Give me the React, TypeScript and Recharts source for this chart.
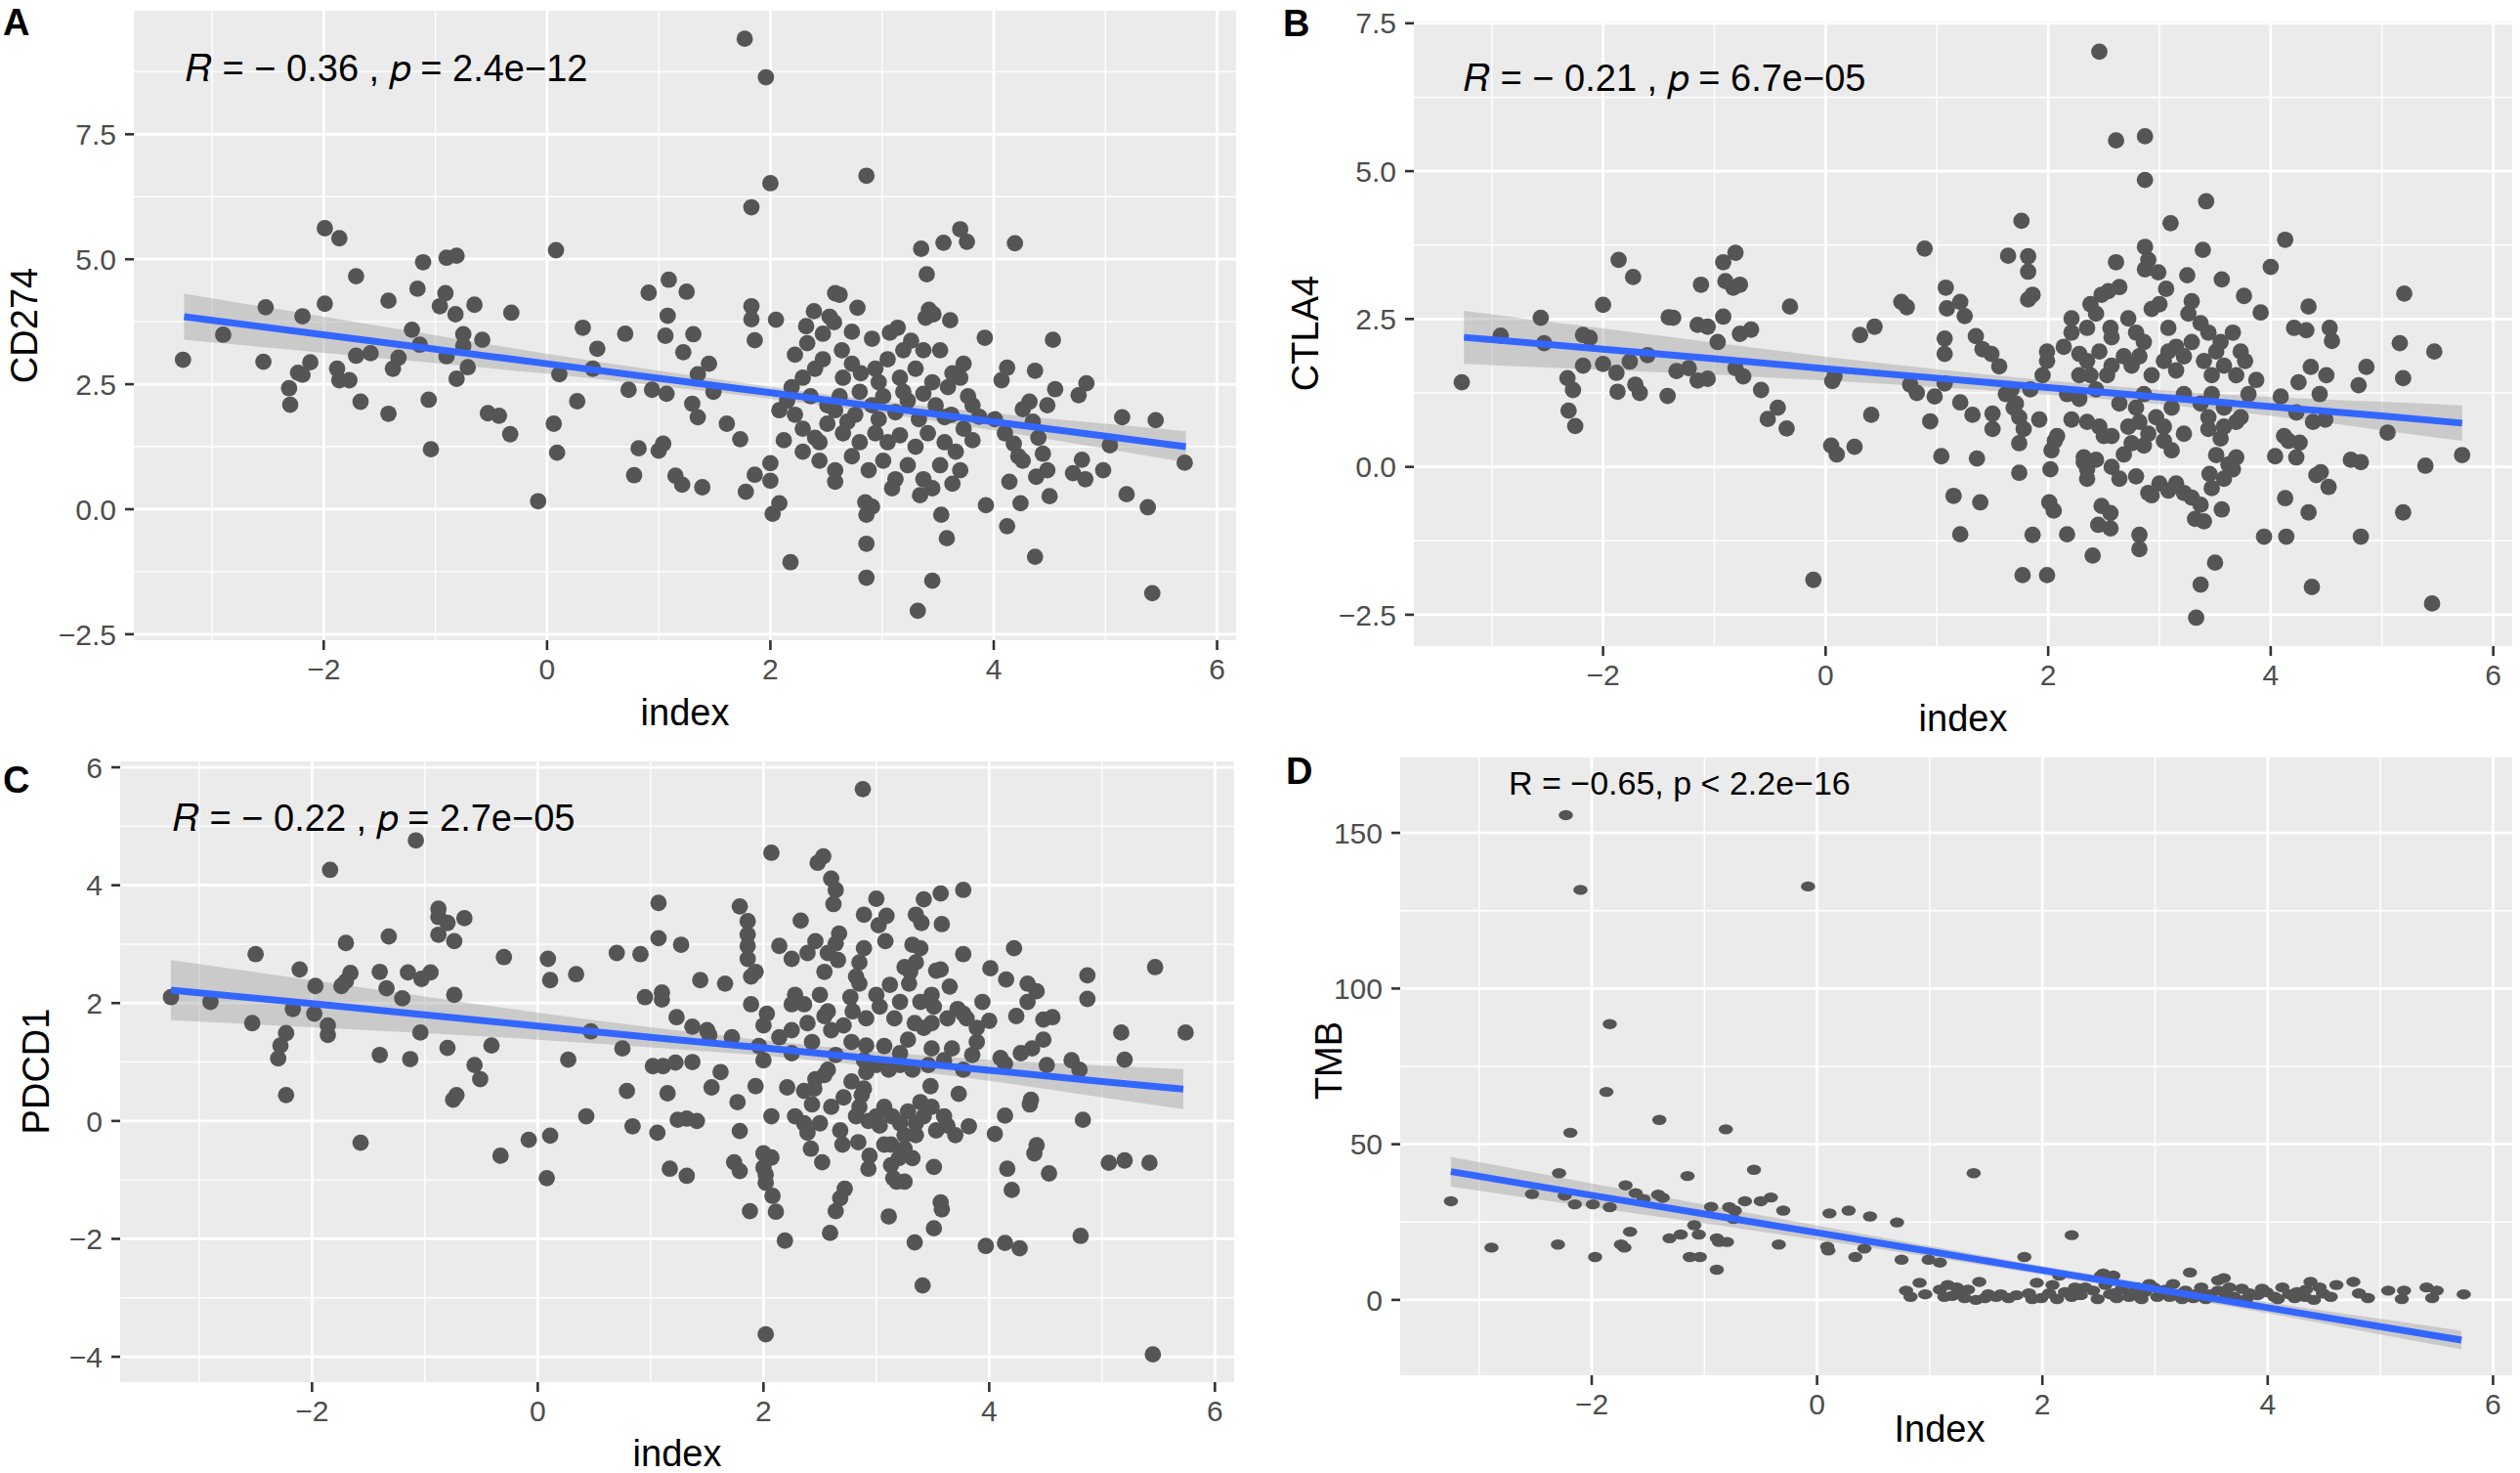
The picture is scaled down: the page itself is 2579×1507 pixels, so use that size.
import React from 'react';
import { ComposedChart, Scatter, Line, Area, XAxis, YAxis, CartesianGrid } from 'recharts';

const FONT = '"Liberation Sans", Arial, Helvetica, sans-serif';

// shared x axis
const xTicks = [-2, 0, 2, 4, 6];
const xMinorTicks = [-3, -1, 1, 3, 5];
const xDomain: [number, number] = [-3.7, 6.17];

const fitX = [-3.25, -2, -1, 0, 1, 2, 3, 4, 5, 5.72];

// ---------- Panel A : CD274 ----------
const cd274Ticks = [-2.5, 0, 2.5, 5, 7.5];
const cd274Minor = [-1.25, 1.25, 3.75, 6.25, 8.75];
const cd274Fit = [3.85, 3.49, 3.2, 2.91, 2.62, 2.33, 2.04, 1.75, 1.46, 1.25];
const cd274Lo = [3.39, 3.13, 2.92, 2.71, 2.47, 2.21, 1.92, 1.58, 1.21, 0.94];
const cd274Hi = [4.31, 3.85, 3.48, 3.11, 2.77, 2.45, 2.16, 1.92, 1.71, 1.56];
const cd274Points = [
  [1.77, 9.41], [1.96, 8.64], [2.86, 6.67], [2.0, 6.52], [1.83, 6.04], [-1.99, 5.62], [-1.86, 5.42], [0.08, 5.18],
  [3.35, 5.21], [3.55, 5.33], [3.7, 5.6], [3.76, 5.35], [4.19, 5.32], [-1.11, 4.94], [-0.9, 5.03], [-0.81, 5.07],
  [-1.71, 4.66], [3.4, 4.7], [1.09, 4.59], [1.25, 4.35], [0.91, 4.33], [-1.16, 4.41], [-1.42, 4.17], [-0.91, 4.32],
  [-1.99, 4.11], [-2.52, 4.04], [-0.65, 4.09], [-0.96, 4.06], [-0.82, 3.9], [-0.32, 3.93], [-2.19, 3.86], [1.08, 3.87],
  [1.83, 4.06], [1.83, 3.8], [2.05, 3.79], [2.78, 4.03], [2.58, 4.32], [2.62, 4.29], [2.39, 3.96], [2.53, 3.85],
  [2.32, 3.66], [3.14, 3.63], [3.07, 3.53], [3.42, 3.99], [3.39, 3.83], [3.46, 3.9], [3.61, 3.78], [3.92, 3.43],
  [4.53, 3.39], [-2.9, 3.49], [-1.21, 3.59], [-0.75, 3.5], [-0.58, 3.39], [0.32, 3.63], [0.7, 3.51], [1.06, 3.47],
  [1.31, 3.5], [1.86, 3.38], [-3.26, 2.99], [-2.54, 2.95], [0.45, 3.21], [1.22, 3.14], [-1.58, 3.12], [-1.71, 3.07],
  [-1.33, 3.03], [-0.9, 3.06], [-0.75, 3.27], [-0.71, 2.84], [-2.12, 2.94], [-1.88, 2.81], [-1.38, 2.81], [-2.23, 2.73],
  [-2.19, 2.69], [-1.86, 2.58], [-1.77, 2.58], [-0.81, 2.61], [0.11, 2.7], [0.41, 2.81], [-1.14, 3.29], [-2.31, 2.42],
  [-2.3, 2.09], [-1.67, 2.15], [-1.42, 1.91], [-1.06, 2.19], [-0.53, 1.92], [-0.43, 1.87], [-0.33, 1.5], [-1.04, 1.2],
  [0.27, 2.16], [0.73, 2.39], [0.94, 2.39], [1.07, 2.31], [1.35, 2.7], [1.45, 2.91], [1.49, 2.35], [1.3, 2.11],
  [1.35, 1.84], [1.61, 1.71], [0.06, 1.71], [0.09, 1.13], [0.82, 1.22], [1.0, 1.17], [1.04, 1.31], [0.78, 0.68],
  [1.15, 0.67], [1.21, 0.49], [1.39, 0.44], [-0.08, 0.16], [1.73, 1.4], [1.78, 0.35], [1.86, 0.69], [2.0, 0.92],
  [2.0, 0.57], [2.02, -0.09], [2.08, 0.12], [2.18, -1.06], [2.85, 0.14], [2.91, 0.05], [2.86, -0.11], [2.86, -0.69],
  [2.86, -1.37], [3.32, -2.03], [3.45, -1.43], [3.58, -0.58], [3.53, -0.11], [3.93, 0.08], [4.12, -0.34], [4.24, 0.12],
  [4.37, -0.95], [4.5, 0.26], [5.42, -1.68], [5.38, 0.04], [5.19, 0.3], [4.98, 0.78], [5.15, 1.84], [5.45, 1.78],
  [5.71, 0.93], [5.04, 1.28], [4.79, 0.99], [4.82, 0.6], [4.71, 0.72], [4.83, 2.52], [4.76, 2.28], [4.55, 2.4],
  [4.48, 2.08], [4.37, 2.77], [4.12, 2.83], [4.07, 2.58], [4.32, 2.15], [4.26, 2.0], [4.35, 1.75], [4.1, 1.52],
  [4.18, 1.31], [4.22, 1.06], [4.26, 0.97], [4.38, 0.65], [4.44, 1.11], [4.48, 0.78], [4.4, 1.43], [4.14, 0.55],
  [3.87, 1.85], [4.01, 1.8], [2.19, 2.44], [2.29, 2.63], [2.4, 2.81], [2.47, 3.0], [2.64, 3.18], [2.73, 2.91],
  [2.81, 2.72], [2.94, 2.81], [3.05, 3.0], [3.16, 2.63], [3.3, 2.81], [3.37, 3.18], [3.45, 2.54], [3.59, 2.44],
  [3.7, 2.63], [3.77, 2.26], [2.36, 2.26], [2.51, 2.08], [2.62, 2.26], [2.76, 1.89], [2.91, 2.08], [3.01, 2.26],
  [3.12, 1.94], [3.23, 2.17], [3.33, 1.8], [3.48, 2.08], [3.62, 1.89], [3.73, 1.61], [2.22, 1.89], [2.29, 1.61],
  [2.4, 1.43], [2.51, 1.71], [2.65, 1.52], [2.8, 1.34], [2.94, 1.52], [3.05, 1.34], [3.16, 1.48], [3.3, 1.25],
  [3.41, 1.52], [3.56, 1.34], [3.66, 1.15], [3.81, 1.38], [2.29, 1.15], [2.44, 0.97], [2.58, 0.78], [2.73, 1.06],
  [2.88, 0.78], [3.01, 0.97], [3.12, 0.6], [3.23, 0.88], [3.37, 0.6], [3.52, 0.88], [3.63, 0.51], [3.7, 0.78],
  [3.34, 0.28], [3.45, 0.42], [3.09, 0.42], [2.58, 0.55], [2.44, 1.34], [2.12, 1.38], [2.08, 1.98], [2.15, 2.17],
  [2.22, 3.09], [2.33, 3.32], [2.47, 3.51], [2.57, 3.74], [2.73, 3.55], [2.91, 3.41], [3.19, 3.18], [3.26, 3.37],
  [3.52, 3.18], [3.63, 2.72], [3.73, 2.91], [2.8, 2.35], [2.97, 2.54], [2.65, 2.63], [3.19, 2.35], [3.37, 2.31],
  [3.56, 1.84], [3.81, 2.08], [2.97, 1.8], [2.69, 1.75], [2.58, 1.98],
];

// ---------- Panel B : CTLA4 ----------
const ctla4Ticks = [-2.5, 0, 2.5, 5, 7.5];
const ctla4Minor = [-1.25, 1.25, 3.75, 6.25];
const ctla4Fit = [2.19, 1.99, 1.83, 1.66, 1.5, 1.34, 1.18, 1.02, 0.86, 0.74];
const ctla4Lo = [1.74, 1.64, 1.56, 1.46, 1.35, 1.22, 1.06, 0.86, 0.62, 0.44];
const ctla4Hi = [2.64, 2.34, 2.1, 1.86, 1.65, 1.46, 1.3, 1.18, 1.1, 1.04];
const ctla4Points = [
  [2.46, 7.02], [2.61, 5.52], [2.87, 5.59], [2.87, 4.85], [3.42, 4.49], [3.1, 4.12], [1.76, 4.16], [4.13, 3.84],
  [4.0, 3.38], [3.39, 3.67], [2.87, 3.72], [2.9, 3.5], [2.87, 3.34], [2.61, 3.46], [2.99, 3.29], [3.25, 3.24],
  [3.56, 3.17], [1.64, 3.57], [1.82, 3.56], [1.82, 3.3], [0.89, 3.69], [-0.81, 3.62], [-0.92, 3.46], [-1.86, 3.5],
  [-1.73, 3.21], [-1.12, 3.08], [-0.9, 3.14], [-0.77, 3.08], [-0.83, 3.03], [1.08, 3.03], [1.86, 2.91], [1.82, 2.83],
  [2.48, 2.91], [2.54, 2.97], [2.64, 3.04], [3.06, 3.01], [3.29, 2.8], [3.76, 2.89], [5.2, 2.93], [-0.32, 2.71],
  [-2.0, 2.74], [-2.56, 2.52], [-2.92, 2.22], [-2.53, 2.09], [-2.18, 2.23], [-2.12, 2.18], [-1.41, 2.53], [-1.37, 2.52],
  [-1.15, 2.4], [-1.06, 2.37], [-0.92, 2.54], [-0.77, 2.25], [-0.67, 2.32], [-0.97, 2.11], [-2.18, 1.71], [-2.0, 1.74],
  [-2.32, 1.5], [-2.27, 1.3], [-2.31, 0.95], [-2.25, 0.69], [-1.88, 1.59], [-1.76, 1.78], [-1.6, 1.89], [-1.71, 1.39],
  [-1.87, 1.27], [-1.67, 1.25], [-1.42, 1.2], [-1.34, 1.62], [-1.23, 1.67], [-1.15, 1.46], [-1.06, 1.49], [-0.81, 1.67],
  [-0.74, 1.53], [-0.58, 1.3], [-0.43, 1.0], [-0.52, 0.81], [-0.35, 0.65], [-3.27, 1.43], [0.06, 1.45], [0.08, 1.53],
  [0.31, 2.23], [0.44, 2.37], [0.68, 2.79], [0.73, 2.7], [0.76, 1.39], [0.82, 1.25], [0.98, 1.19], [1.07, 1.41],
  [1.07, 2.17], [1.07, 1.91], [1.09, 2.68], [1.21, 2.79], [1.25, 2.55], [1.35, 2.21], [1.41, 1.99], [1.49, 1.91],
  [1.56, 1.7], [1.62, 1.23], [1.69, 1.0], [1.5, 0.9], [1.5, 0.64], [1.32, 0.88], [1.21, 1.09], [0.94, 0.77],
  [0.41, 0.88], [0.05, 0.36], [0.1, 0.21], [0.26, 0.34], [1.04, 0.18], [1.36, 0.14], [1.15, -0.49], [1.21, -1.14],
  [1.39, -0.6], [-0.11, -1.91], [1.74, -0.1], [1.77, -1.83], [1.86, -1.15], [1.99, -1.83], [2.01, -0.6], [2.05, -0.74],
  [2.02, -0.04], [2.17, -1.14], [2.4, -1.5], [2.48, -0.66], [2.45, -0.98], [2.56, -0.78], [2.56, -1.04], [2.82, -1.15],
  [2.82, -1.39], [2.9, -0.44], [2.93, -0.48], [3.08, -0.4], [3.22, -0.44], [3.29, -0.52], [3.37, -0.64], [3.32, -0.88],
  [3.4, -0.92], [3.37, -1.99], [3.33, -2.55], [3.5, -1.62], [3.56, -0.72], [3.45, -0.12], [3.94, -1.18], [4.14, -1.18],
  [4.13, -0.53], [4.34, -0.77], [4.37, -2.03], [4.41, -0.14], [4.45, -0.09], [4.52, -0.34], [4.72, 0.12], [4.81, 0.08],
  [4.81, -1.18], [5.19, -0.77], [5.45, -2.31], [5.39, 0.02], [5.72, 0.2], [5.05, 0.58], [5.16, 2.09], [5.47, 1.95],
  [5.19, 1.5], [4.86, 1.69], [4.79, 1.38], [4.53, 2.35], [4.55, 2.13], [4.34, 2.71], [4.32, 2.31], [4.21, 2.35],
  [3.91, 2.61], [4.25, 1.43], [4.36, 1.69], [4.44, 1.23], [4.5, 1.55], [4.49, 0.8], [4.38, 0.76], [4.23, 0.92],
  [4.09, 1.19], [3.87, 1.47], [4.12, 0.52], [4.16, 0.44], [4.26, 0.41], [4.04, 0.18], [4.23, 0.16], [3.69, 0.16],
  [3.62, 0.04], [3.51, 0.2], [3.55, 0.48], [3.44, 0.64], [3.22, 0.56], [3.11, 0.28], [3.04, 0.44], [2.9, 0.56],
  [2.86, 0.36], [2.75, 0.4], [2.68, 0.21], [2.57, 0.0], [2.43, 0.12], [2.32, 0.16], [2.35, -0.04], [2.46, 0.68],
  [2.5, 0.52], [2.35, 0.76], [2.21, 0.8], [2.06, 0.44], [2.08, 0.52], [2.03, 0.28], [1.92, 0.8], [1.78, 0.64],
  [1.74, 0.4], [1.74, 0.84], [1.71, 1.07], [1.67, 1.31], [1.84, 1.31], [1.95, 1.55], [1.99, 1.79], [1.99, 1.95],
  [2.14, 2.03], [2.21, 2.27], [2.21, 2.51], [2.35, 2.35], [2.38, 2.75], [2.43, 2.59], [2.56, 2.35], [2.57, 2.19],
  [2.72, 2.51], [2.79, 2.27], [2.86, 2.11], [2.93, 2.67], [3.0, 2.75], [3.08, 2.35], [3.15, 2.03], [3.26, 2.59],
  [3.37, 2.43], [3.44, 2.27], [3.55, 2.11], [3.66, 2.27], [3.73, 1.95], [3.77, 1.79], [2.28, 1.91], [2.35, 1.79],
  [2.46, 1.95], [2.28, 1.55], [2.38, 1.55], [2.53, 1.55], [2.57, 1.71], [2.68, 1.87], [2.75, 1.71], [2.82, 1.87],
  [2.93, 1.55], [3.04, 1.79], [3.08, 1.95], [3.15, 1.63], [3.22, 1.87], [3.29, 2.11], [3.4, 1.79], [3.47, 1.55],
  [3.51, 1.95], [3.58, 1.71], [3.69, 1.55], [2.17, 1.23], [2.28, 1.15], [2.43, 1.31], [2.64, 1.07], [2.79, 1.0],
  [2.86, 1.23], [2.97, 0.84], [3.11, 1.0], [3.22, 1.23], [3.37, 1.07], [3.47, 1.23], [3.58, 1.0], [3.73, 0.84],
  [3.8, 1.23], [3.69, 0.76], [3.58, 0.68], [3.44, 0.84], [2.57, 0.52], [2.72, 0.68], [2.82, 0.76], [3.04, 0.68],
  [3.15, -0.28], [3.0, -0.28], [2.79, -0.16], [2.64, -0.2], [2.35, -0.2], [2.32, 0.08], [3.47, -0.36], [3.58, -0.2],
  [3.66, -0.04],
];

// ---------- Panel C : PDCD1 ----------
const pdcd1Ticks = [-4, -2, 0, 2, 4, 6];
const pdcd1Minor = [-3, -1, 1, 3, 5];
const pdcd1Fit = [2.22, 1.99, 1.8, 1.61, 1.42, 1.24, 1.05, 0.86, 0.67, 0.54];
const pdcd1Lo = [1.71, 1.59, 1.49, 1.38, 1.25, 1.11, 0.92, 0.68, 0.4, 0.2];
const pdcd1Hi = [2.73, 2.39, 2.11, 1.84, 1.59, 1.37, 1.18, 1.04, 0.94, 0.88];
const pdcd1Points = [
  [2.88, 5.63], [-1.08, 4.76], [2.07, 4.55], [-1.84, 4.26], [2.53, 4.49], [2.48, 4.38], [2.6, 4.11], [2.64, 3.92],
  [2.62, 3.68], [3.0, 3.77], [3.77, 3.92], [3.57, 3.86], [3.42, 3.76], [1.07, 3.7], [1.79, 3.64], [-0.88, 3.6],
  [-0.88, 3.46], [-0.65, 3.44], [-0.8, 3.36], [1.86, 3.39], [2.89, 3.5], [3.09, 3.48], [3.35, 3.5], [3.58, 3.34],
  [3.4, 3.36], [3.02, 3.32], [2.33, 3.4], [-0.88, 3.16], [-1.32, 3.13], [-1.7, 3.02], [-0.74, 3.05], [1.07, 3.1],
  [1.27, 2.99], [1.86, 3.16], [1.86, 2.97], [2.14, 2.97], [2.67, 3.18], [2.64, 3.01], [2.46, 3.05], [2.89, 2.93],
  [3.08, 3.05], [3.32, 2.99], [3.39, 2.93], [3.77, 2.83], [4.22, 2.93], [-2.5, 2.83], [-0.3, 2.78], [0.09, 2.75],
  [0.7, 2.85], [0.91, 2.83], [1.86, 2.75], [2.25, 2.75], [2.39, 2.85], [2.57, 2.85], [2.66, 2.73], [2.85, 2.69],
  [3.35, 2.69], [3.25, 2.61], [3.3, 2.53], [3.53, 2.55], [3.57, 2.57], [4.01, 2.59], [5.47, 2.61], [-2.11, 2.57],
  [-1.66, 2.51], [-1.4, 2.53], [-1.15, 2.52], [-0.95, 2.52], [-1.03, 2.41], [-1.97, 2.29], [-1.7, 2.37], [-1.74, 2.29],
  [-1.34, 2.25], [-1.2, 2.08], [-0.74, 2.14], [0.11, 2.39], [0.34, 2.49], [1.44, 2.39], [1.66, 2.33], [1.93, 2.53],
  [1.89, 2.45], [2.54, 2.53], [2.82, 2.45], [3.12, 2.31], [3.29, 2.33], [3.65, 2.28], [4.15, 2.4], [4.34, 2.33],
  [4.42, 2.2], [4.87, 2.47], [4.87, 2.07], [4.34, 2.02], [4.48, 1.72], [4.56, 1.76], [4.24, 1.78], [3.94, 2.02],
  [3.72, 1.9], [3.77, 1.82], [3.51, 1.94], [3.39, 2.02], [3.03, 1.94], [2.77, 2.1], [2.79, 1.86], [2.54, 1.78],
  [2.57, 1.86], [2.28, 2.14], [2.25, 1.98], [2.03, 1.82], [2.0, 1.62], [2.25, 1.54], [2.6, 1.54], [2.91, 1.74],
  [3.16, 1.74], [3.34, 1.66], [3.49, 1.66], [3.89, 1.58], [4.0, 1.7], [4.48, 1.38], [5.17, 1.5], [5.74, 1.5],
  [5.2, 1.04], [4.73, 1.03], [4.8, 0.87], [4.51, 0.95], [4.38, 1.23], [4.28, 1.15], [4.1, 1.07], [4.14, 0.97],
  [3.85, 1.12], [3.67, 1.23], [3.49, 1.23], [3.21, 1.15], [3.07, 1.27], [2.91, 1.28], [2.64, 1.12], [2.25, 1.15],
  [2.0, 1.03], [1.37, 1.6], [1.5, 1.54], [1.52, 1.46], [1.72, 1.42], [1.23, 1.76], [1.1, 2.18], [1.1, 2.06],
  [0.95, 2.1], [0.47, 1.52], [0.75, 1.23], [0.27, 1.04], [-0.41, 1.28], [-0.56, 0.95], [-0.51, 0.71], [-0.72, 0.44],
  [-0.75, 0.36], [-0.8, 1.24], [-1.04, 1.5], [-1.13, 1.05], [-1.4, 1.12], [-1.86, 1.62], [-1.86, 1.46], [-1.98, 1.82],
  [-2.17, 1.9], [-2.23, 1.49], [-2.28, 1.28], [-2.3, 1.06], [-2.23, 0.44], [-2.53, 1.66], [-2.9, 2.02], [-3.25, 2.1],
  [-1.57, -0.37], [-0.33, -0.59], [-0.08, -0.32], [0.08, -0.97], [0.11, -0.25], [0.43, 0.08], [0.79, 0.51], [0.84, -0.09],
  [1.02, 0.93], [1.11, 0.93], [1.22, 0.99], [1.37, 1.0], [1.15, 0.47], [1.06, -0.2], [1.24, 0.02], [1.32, 0.04],
  [1.41, 0.0], [1.17, -0.81], [1.32, -0.93], [1.54, 0.57], [1.62, 0.83], [1.77, 0.32], [1.93, 0.59], [1.79, -0.17],
  [1.74, -0.7], [1.79, -0.85], [1.88, -1.53], [2.0, -0.55], [2.07, -0.62], [2.0, -0.79], [2.02, -0.91], [2.02, -1.05],
  [2.08, -1.27], [2.11, -1.54], [2.19, -2.03], [2.02, -3.62], [2.07, 0.08], [2.21, 0.57], [2.28, 0.08], [2.36, -0.04],
  [2.39, -0.2], [2.42, -0.47], [2.52, -0.7], [2.45, 0.55], [2.46, 0.71], [2.54, 0.78], [2.57, 0.87], [2.6, 0.24],
  [2.5, -0.04], [2.68, -0.16], [2.7, -0.4], [2.72, -1.15], [2.68, -1.31], [2.64, -1.53], [2.59, -1.9], [2.84, -0.36],
  [2.85, 0.24], [2.87, 0.44], [2.89, 0.55], [2.91, 0.83], [2.93, 0.0], [2.94, -0.59], [2.93, -0.81], [3.0, 0.08],
  [3.11, -1.62], [3.13, -0.4], [3.13, -0.75], [3.15, -0.97], [3.18, -1.03], [3.25, -1.03], [3.2, -0.63], [3.25, -0.47],
  [3.32, -0.63], [3.34, -2.06], [3.41, -2.79], [3.51, -1.82], [3.57, -1.38], [3.58, -1.5], [3.51, -0.78], [3.35, -0.04],
  [3.49, 0.24], [3.6, 0.08], [3.63, -0.08], [3.7, -0.24], [3.73, 0.46], [3.48, 0.59], [3.82, -0.09], [4.05, -0.22],
  [4.14, 0.09], [4.16, -0.81], [4.2, -1.17], [4.14, -2.07], [4.27, -2.16], [3.97, -2.12], [4.36, 0.28], [4.37, 0.36],
  [4.42, -0.41], [4.4, -0.55], [4.53, -0.89], [4.81, -1.95], [4.83, 0.02], [5.06, -0.71], [5.2, -0.67], [5.42, -0.71],
  [5.45, -3.96], [2.36, 0.51], [2.43, 0.28], [2.71, 0.4], [2.78, 0.67], [2.82, 0.08], [3.03, -0.08], [3.07, 0.24],
  [3.14, 0.08], [3.21, -0.04], [3.28, 0.16], [3.39, 0.32], [3.42, 0.08], [3.53, -0.16], [3.35, -0.24], [3.25, -0.24],
  [3.07, -0.4], [3.0, 0.95], [3.11, 0.87], [3.21, 0.95], [3.32, 0.87], [3.46, 0.95], [3.6, 1.03], [3.77, 0.87],
  [2.89, 1.03], [2.78, 1.34], [2.43, 1.34], [2.39, 1.66], [2.36, 1.98], [2.5, 2.14], [2.85, 2.33], [3.0, 2.14],
  [3.21, 2.02], [3.49, 2.14], [3.63, 1.74], [3.8, 1.74], [3.89, 1.34], [3.28, 1.38], [3.42, 1.58], [2.71, 1.62],
  [2.14, 1.42], [1.96, 1.27], [1.89, 1.98],
];

// ---------- Panel D : TMB ----------
const tmbTicks = [0, 50, 100, 150];
const tmbMinor = [25, 75, 125];
const tmbFit = [41.2, 33.6, 27.6, 21.6, 15.6, 9.5, 3.5, -2.5, -8.6, -12.9];
const tmbLo = [36.4, 29.8, 24.6, 19.3, 13.9, 8.1, 2.1, -4.3, -11.1, -15.9];
const tmbHi = [46.0, 37.4, 30.6, 23.9, 17.3, 10.9, 4.9, -0.7, -6.1, -9.9];
const tmbPoints = [
  [-2.23, 155.7], [-2.1, 131.7], [-0.08, 132.8], [-1.84, 88.6], [-1.87, 66.8], [-1.4, 57.8], [-0.81, 54.8], [-2.19, 53.7],
  [-2.29, 40.7], [-1.15, 39.8], [-0.56, 41.8], [1.39, 40.7], [-1.7, 36.8], [-3.25, 31.7], [-2.53, 34.0], [-2.24, 33.5],
  [-2.15, 30.7], [-1.99, 30.7], [-1.84, 29.8], [-1.61, 34.3], [-1.54, 32.3], [-1.41, 33.8], [-1.37, 32.8], [-0.94, 29.9],
  [-0.78, 29.8], [-0.73, 28.7], [-0.64, 31.7], [-0.5, 31.7], [-0.41, 32.9], [-0.3, 28.7], [0.11, 27.8], [0.28, 28.7],
  [0.47, 26.8], [0.71, 24.9], [-1.09, 24.0], [-1.05, 21.0], [-1.21, 21.0], [-1.66, 21.9], [-1.31, 19.8], [-0.89, 19.8],
  [-0.87, 18.6], [-0.8, 18.6], [-0.74, 26.0], [-2.89, 16.8], [-2.3, 17.8], [-1.74, 17.8], [-1.71, 16.8], [-1.97, 13.8],
  [-1.13, 13.8], [-1.04, 13.8], [-0.89, 9.7], [-0.34, 17.8], [0.09, 17.1], [0.1, 15.9], [0.42, 16.5], [0.34, 13.8],
  [0.75, 12.9], [0.99, 12.9], [1.09, 12.0], [1.84, 13.8], [2.26, 20.8], [2.15, 7.8], [0.91, 5.5], [1.44, 5.8],
  [0.79, 3.0], [0.83, 1.0], [0.96, 1.8], [1.09, 3.3], [1.16, 4.8], [1.2, 1.3], [1.27, 2.5], [1.34, 3.3],
  [1.41, 0.0], [1.52, 1.8], [1.63, 1.8], [1.77, 1.5], [1.88, 2.1], [1.95, 5.5], [1.99, 0.6], [2.06, 2.1],
  [2.13, 0.3], [2.2, 2.5], [2.29, 4.0], [2.34, 1.5], [2.45, 3.0], [2.52, 7.8], [2.63, 7.8], [2.56, 4.8],
  [2.49, 0.3], [2.6, 1.8], [2.7, 3.3], [2.77, 1.0], [2.84, 4.0], [2.91, 2.5], [2.95, 5.1], [3.02, 1.0],
  [3.09, 3.3], [3.16, 5.1], [3.2, 1.8], [3.27, 3.0], [3.31, 8.8], [3.34, 0.6], [3.41, 4.0], [3.49, 1.8],
  [3.56, 6.3], [3.61, 7.0], [3.56, 3.0], [3.66, 4.0], [3.7, 1.0], [3.77, 3.6], [3.84, 2.1], [3.91, 1.5],
  [3.99, 2.5], [4.06, 1.0], [4.13, 4.0], [4.19, 1.8], [4.26, 2.5], [4.33, 1.0], [4.38, 5.8], [4.41, 0.0],
  [4.49, 2.1], [4.56, 1.0], [4.61, 4.8], [4.76, 5.8], [4.81, 2.1], [4.89, 0.6], [5.07, 3.0], [5.19, 0.3],
  [5.21, 3.0], [5.41, 4.0], [5.46, 0.6], [5.5, 3.0], [5.74, 1.8], [2.26, 1.0], [2.38, 4.0], [2.66, 0.6],
  [2.81, 2.5], [2.88, 0.3], [3.06, 2.1], [3.24, 0.3], [3.38, 2.1], [3.45, 0.3], [3.63, 1.8], [3.81, 0.3],
  [3.95, 3.6], [4.09, 0.3], [4.24, 0.6], [4.34, 3.3], [4.46, 4.0], [2.09, 4.8], [1.91, 0.3], [1.7, 0.6],
  [1.59, 1.0], [1.49, 0.6], [1.31, 0.6], [1.24, 4.0], [1.13, 1.0], [2.54, 8.5], [3.13, 1.0], [2.63, 2.1],
  [2.99, 4.0],
];

const fmtDecimal = (v: number) => v.toFixed(1).replace('-', '\u2212');
const fmtInt = (v: number) => String(v).replace('-', '\u2212');

const YW = 110;
const XH = 80;
const MT = 24;

type PanelProps = {
  points: number[][];
  fit: number[];
  lo: number[];
  hi: number[];
  yDomain: [number, number];
  yTicks: number[];
  yMinor: number[];
  fmt: (v: number) => string;
  left: number;
  top: number;
  width: number;
  height: number;
  ellipse?: boolean;
};

function Panel(p: PanelProps) {
  const rows = fitX.map((x, i) => ({ x, fit: p.fit[i], band: [p.lo[i], p.hi[i]] }));
  const pts = p.points.map(([x, y]) => ({ x, y }));
  const tickStyle = { fill: '#4D4D4D', fontSize: 30, fontFamily: FONT };
  const tickLine = { stroke: '#333333', strokeWidth: 2.6 };
  const shape = (s: any) =>
    p.ellipse ? (
      <ellipse cx={s.cx} cy={s.cy} rx={7.3} ry={5.2} fill="#555555" />
    ) : (
      <circle cx={s.cx} cy={s.cy} r={8.4} fill="#555555" />
    );
  return (
    <div style={{ position: 'absolute', left: p.left - YW, top: p.top - MT }}>
      <ComposedChart
        width={p.width + YW}
        height={p.height + XH + MT}
        data={rows}
        margin={{ top: MT, right: 0, bottom: 0, left: 0 }}
      >
        <CartesianGrid
          fill="#EBEBEB"
          stroke="#FFFFFF"
          strokeWidth={1.4}
          horizontalValues={p.yMinor}
          verticalValues={xMinorTicks}
        />
        <CartesianGrid
          stroke="#FFFFFF"
          strokeWidth={2.8}
          horizontalValues={p.yTicks}
          verticalValues={xTicks}
        />
        <XAxis
          type="number"
          dataKey="x"
          domain={xDomain}
          ticks={xTicks}
          interval={0}
          allowDataOverflow
          axisLine={false}
          tickLine={tickLine}
          tickSize={10}
          tickMargin={9}
          tick={tickStyle}
          tickFormatter={fmtInt}
          height={XH}
        />
        <YAxis
          type="number"
          domain={p.yDomain}
          ticks={p.yTicks}
          interval={0}
          allowDataOverflow
          axisLine={false}
          tickLine={tickLine}
          tickSize={9}
          tickMargin={9}
          tick={tickStyle}
          tickFormatter={p.fmt}
          width={YW}
        />
        <Area
          dataKey="band"
          type="monotone"
          fill="#999999"
          fillOpacity={0.4}
          stroke="none"
          isAnimationActive={false}
        />
        <Scatter data={pts} dataKey="y" shape={shape} isAnimationActive={false} />
        <Line
          dataKey="fit"
          type="linear"
          stroke="#3366FF"
          strokeWidth={7}
          dot={false}
          activeDot={false}
          isAnimationActive={false}
          zIndex={700}
        />
      </ComposedChart>
    </div>
  );
}

export default function App() {
  return (
    <div
      style={{
        position: 'absolute',
        left: 0,
        top: 0,
        width: 2579,
        height: 1507,
        background: '#FFFFFF',
        overflow: 'hidden',
      }}
    >
      <Panel
        points={cd274Points}
        fit={cd274Fit}
        lo={cd274Lo}
        hi={cd274Hi}
        yDomain={[-2.62, 9.97]}
        yTicks={cd274Ticks}
        yMinor={cd274Minor}
        fmt={fmtDecimal}
        left={137}
        top={11}
        width={1128}
        height={644}
      />
      <Panel
        points={ctla4Points}
        fit={ctla4Fit}
        lo={ctla4Lo}
        hi={ctla4Hi}
        yDomain={[-3.03, 7.53]}
        yTicks={ctla4Ticks}
        yMinor={ctla4Minor}
        fmt={fmtDecimal}
        left={1447}
        top={22}
        width={1124}
        height={639}
      />
      <Panel
        points={pdcd1Points}
        fit={pdcd1Fit}
        lo={pdcd1Lo}
        hi={pdcd1Hi}
        yDomain={[-4.43, 6.1]}
        yTicks={pdcd1Ticks}
        yMinor={pdcd1Minor}
        fmt={fmtInt}
        left={123}
        top={779}
        width={1140}
        height={635}
      />
      <Panel
        points={tmbPoints}
        fit={tmbFit}
        lo={tmbLo}
        hi={tmbHi}
        yDomain={[-24.2, 174.2]}
        yTicks={tmbTicks}
        yMinor={tmbMinor}
        fmt={fmtInt}
        left={1433}
        top={775}
        width={1138}
        height={632}
        ellipse
      />
      <svg
        width={2579}
        height={1507}
        style={{ position: 'absolute', left: 0, top: 0, pointerEvents: 'none' }}
        fontFamily={FONT}
      >
        {/* panel letters */}
        <text x={3} y={36} fontSize={38} fontWeight="bold" fill="#000">A</text>
        <text x={1313} y={37} fontSize={38} fontWeight="bold" fill="#000">B</text>
        <text x={3} y={811} fontSize={38} fontWeight="bold" fill="#000">C</text>
        <text x={1316} y={802} fontSize={38} fontWeight="bold" fill="#000">D</text>

        {/* correlation annotations */}
        <text x={190} y={83} fontSize={38} fill="#000">
          {'\uD835\uDC45 = \u2212 0.36 , \uD835\uDC5D = 2.4e\u221212'}
        </text>
        <text x={1498} y={93} fontSize={38} fill="#000">
          {'\uD835\uDC45 = \u2212 0.21 , \uD835\uDC5D = 6.7e\u221205'}
        </text>
        <text x={177} y={850} fontSize={38} fill="#000">
          {'\uD835\uDC45 = \u2212 0.22 , \uD835\uDC5D = 2.7e\u221205'}
        </text>
        <text x={1544} y={813} fontSize={34} fill="#000">
          {'R = \u22120.65, p < 2.2e\u221216'}
        </text>

        {/* x axis titles */}
        <text x={701} y={742} fontSize={38} textAnchor="middle" fill="#000">index</text>
        <text x={2009} y={748} fontSize={38} textAnchor="middle" fill="#000">index</text>
        <text x={693} y={1500} fontSize={38} textAnchor="middle" fill="#000">index</text>
        <text x={1985} y={1475} fontSize={38} textAnchor="middle" fill="#000">Index</text>

        {/* y axis titles */}
        <text transform="translate(38,333) rotate(-90)" fontSize={38} textAnchor="middle" fill="#000">CD274</text>
        <text transform="translate(1349,341) rotate(-90)" fontSize={38} textAnchor="middle" fill="#000">CTLA4</text>
        <text transform="translate(50,1096) rotate(-90)" fontSize={38} textAnchor="middle" fill="#000">PDCD1</text>
        <text transform="translate(1373,1085) rotate(-90)" fontSize={38} textAnchor="middle" fill="#000">TMB</text>
      </svg>
    </div>
  );
}
